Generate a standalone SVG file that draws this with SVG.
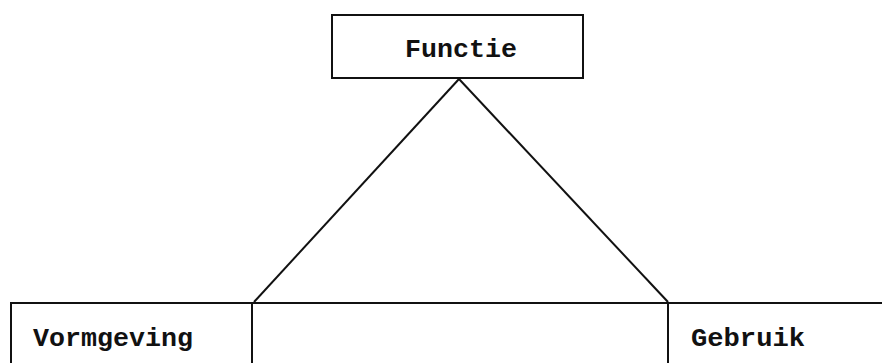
<svg xmlns="http://www.w3.org/2000/svg" width="882" height="363" viewBox="0 0 882 363">
<style>
.box{fill:none;stroke:#111;stroke-width:2}
.ln{fill:none;stroke:#111;stroke-width:2}
.t{font-family:"Liberation Mono","Courier New",monospace;font-weight:bold;font-size:26px;fill:#111}
</style>
<rect width="882" height="363" fill="#fff"/>
<g id="functie">
<rect class="box" x="332" y="15" width="251" height="63"/>
<text class="t" x="405" y="57" textLength="112" lengthAdjust="spacingAndGlyphs">Functie</text>
</g>
<g id="vormgeving">
<path class="box" d="M11,363 V303 H252 V363"/>
<text class="t" x="33" y="346" textLength="160" lengthAdjust="spacingAndGlyphs">Vormgeving</text>
</g>
<g id="midden">
<path class="box" d="M252,303 H668"/>
</g>
<g id="gebruik">
<path class="box" d="M668,363 V303 H882"/>
<text class="t" x="691" y="346" textLength="114" lengthAdjust="spacingAndGlyphs">Gebruik</text>
</g>
<g id="connectors">
<line class="ln" x1="459" y1="79" x2="254" y2="302"/>
<line class="ln" x1="459" y1="79" x2="668" y2="302"/>
</g>
</svg>
